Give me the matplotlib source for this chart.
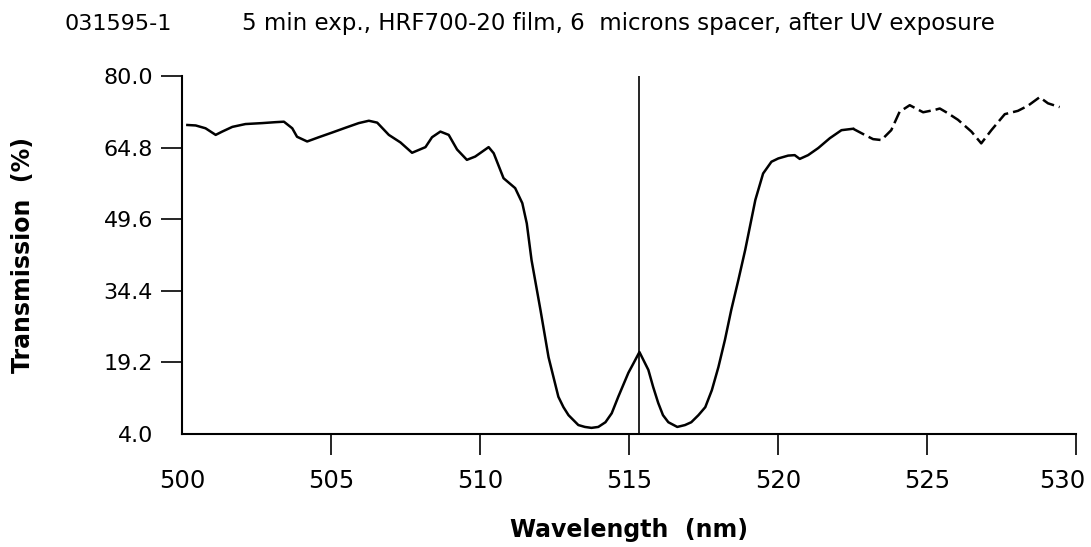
import matplotlib
matplotlib.use('Agg')
import matplotlib.pyplot as plt
from matplotlib.transforms import ScaledTranslation

# spectrum: wavelength (nm) vs transmission (%)
wavelength = [
    500.18, 500.46, 500.79, 501.13, 501.35, 501.69, 502.13, 502.69, 503.14, 503.42,
    503.70, 503.86, 504.20, 504.59, 505.04, 505.48, 505.93, 506.27, 506.55, 506.94,
    507.33, 507.72, 508.17, 508.39, 508.67, 508.95, 509.23, 509.56, 509.84, 510.29,
    510.46, 510.79, 511.18, 511.42, 511.57, 511.73, 512.03, 512.30, 512.63, 512.80,
    512.97, 513.30, 513.52, 513.74, 513.97, 514.21, 514.42, 514.64, 514.98, 515.15,
    515.35, 515.65, 515.81, 515.98, 516.14, 516.32, 516.62, 516.88, 517.09, 517.33,
    517.56, 517.78, 518.00, 518.22, 518.43, 518.67, 518.90, 519.24, 519.50, 519.78,
    520.01, 520.34, 520.56, 520.73, 521.01, 521.35, 521.74, 522.13, 522.52, 522.91,
    523.19, 523.47, 523.80, 524.08, 524.42, 524.87, 525.26, 525.43, 525.70, 526.04,
    526.49, 526.82, 527.16, 527.61, 528.05, 528.39, 528.78, 529.06, 529.45,
]
transmission = [
    69.6, 69.5, 68.9, 67.5, 68.2, 69.2, 69.8, 70.0, 70.2, 70.3,
    68.9, 67.1, 66.1, 67.0, 68.0, 69.0, 70.0, 70.5, 70.1, 67.5,
    65.9, 63.7, 64.9, 67.0, 68.2, 67.5, 64.4, 62.2, 62.9, 64.9,
    63.6, 58.3, 56.2, 53.0, 48.7, 40.9, 30.3, 20.3, 11.9, 9.7,
    8.0, 5.9, 5.5, 5.3, 5.5, 6.5, 8.4, 11.9, 17.0, 19.0,
    21.4, 17.6, 14.0, 10.6, 8.0, 6.5, 5.5, 5.9, 6.5, 8.0,
    9.7, 13.3, 18.2, 24.0, 30.3, 36.7, 43.1, 53.7, 59.3, 61.8,
    62.5, 63.1, 63.2, 62.4, 63.2, 64.7, 66.8, 68.5, 68.8, 67.5,
    66.6, 66.4, 68.5, 72.4, 73.8, 72.3, 72.8, 73.1, 72.1, 70.7,
    68.2, 65.7, 68.5, 71.9, 72.6, 73.7, 75.5, 74.2, 73.4,
]
marker_wavelength = 515.35
# beyond this the scanned trace gets sparse and looks broken
sparse_from = 522.52

x_ticks = [500, 505, 510, 515, 520, 525, 530]
y_ticks = [4.0, 19.2, 34.4, 49.6, 64.8, 80.0]

sample_id = '031595-1'
title = '5 min exp., HRF700-20 film, 6  microns spacer, after UV exposure'

plt.rcParams['font.family'] = 'DejaVu Sans'

fig = plt.figure(figsize=(10.91, 5.47), dpi=100)
ax = fig.add_axes([182 / 1091, 113 / 547, 894 / 1091, 358 / 547])

solid_x = [w for w in wavelength if w <= sparse_from]
solid_y = transmission[:len(solid_x)]
dash_x = wavelength[len(solid_x) - 1:]
dash_y = transmission[len(solid_x) - 1:]
ax.plot(solid_x, solid_y, color='black', linewidth=1.8)
ax.plot(dash_x, dash_y, color='black', linewidth=1.8, dashes=(5, 2))
ax.axvline(marker_wavelength, color='black', linewidth=1.2)

ax.set_xlim(500, 530)
ax.set_ylim(4, 80)
ax.set_xticks(x_ticks)
ax.set_yticks(y_ticks)
ax.set_yticklabels(['%.1f' % v for v in y_ticks])

for side in ['top', 'right']:
    ax.spines[side].set_visible(False)
for side in ['left', 'bottom']:
    ax.spines[side].set_linewidth(1.5)

ax.tick_params(axis='both', direction='out', length=15, width=1.2)
ax.tick_params(axis='x', labelsize=17.5, pad=10)
ax.tick_params(axis='y', labelsize=16, pad=6)
ax.xaxis.get_major_ticks()[0].tick1line.set_visible(False)
ax.yaxis.get_major_ticks()[0].tick1line.set_visible(False)

# keep the last x label inside the figure
last = ax.get_xticklabels()[-1]
last.set_transform(last.get_transform() + ScaledTranslation(-14 / 100, 0, fig.dpi_scale_trans))

ax.set_xlabel('Wavelength  (nm)', fontsize=17, fontweight='bold', va='baseline')
ax.xaxis.set_label_coords(0.5, -0.288)
ax.set_ylabel('Transmission  (%)', fontsize=17, fontweight='bold', va='center')
ax.yaxis.set_label_coords(-0.1775, 0.5)

fig.text(65 / 1091, 1 - 30 / 547, sample_id, fontsize=16, va='baseline')
fig.text(242 / 1091, 1 - 30 / 547, title, fontsize=16.5, va='baseline')

fig.savefig('out.png', dpi=100)
